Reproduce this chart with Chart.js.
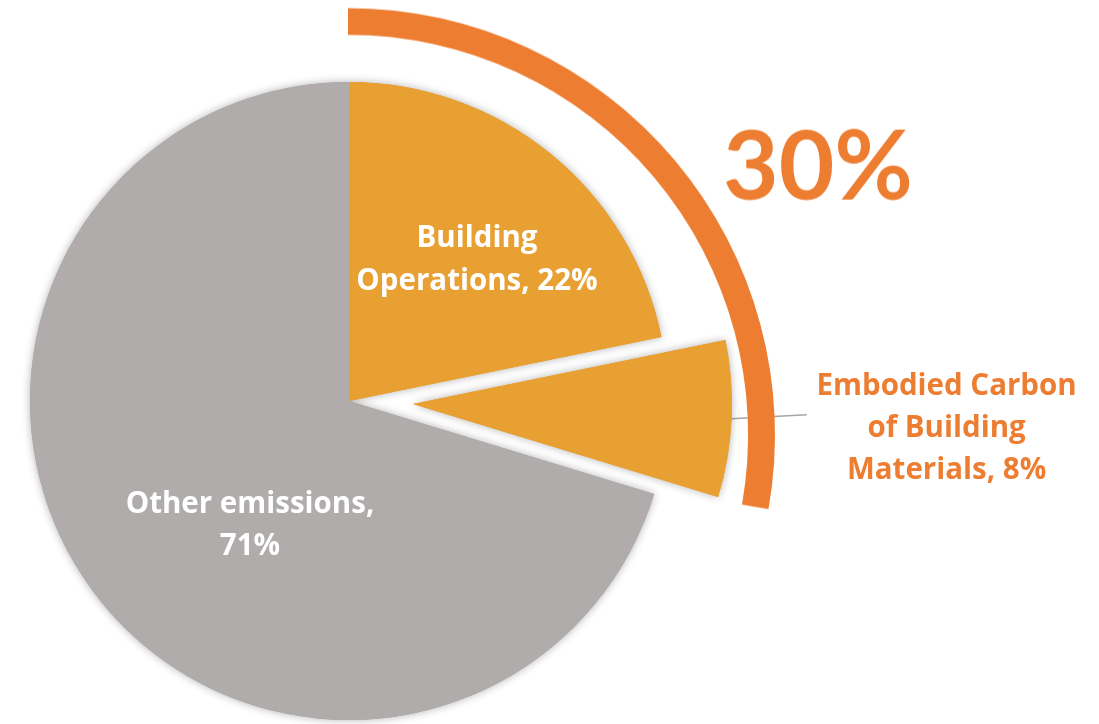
<!DOCTYPE html>
<html>
<head>
<meta charset="utf-8">
<script src="https://cdn.jsdelivr.net/npm/chart.js@4.4.1/dist/chart.umd.min.js"></script>
<style>
  html, body { margin: 0; padding: 0; background: #ffffff; overflow: hidden; width: 1099px; height: 724px; }
  canvas { position: absolute; left: 0; top: 0; width: 1099px; height: 724px; }
</style>
</head>
<body>
<canvas id="pieMain" width="1099" height="724"></canvas>
<canvas id="pieExploded" width="1099" height="724"></canvas>
<canvas id="ring" width="1099" height="724"></canvas>
<script>
// ---------------- data ----------------
const categories = ['Building Operations', 'Embodied Carbon of Building Materials', 'Other emissions'];
const shares = [22, 8, 71];
const explodedIndex = 1;
const ringCategories = ['Buildings (operations + embodied)'];
const ringShares = [30];
const ringLabel = '30%';
const labelLines = [
  ['Building', 'Operations, 22%'],
  ['Embodied Carbon', 'of Building', 'Materials, 8%'],
  ['Other emissions,', '71%']
];

// ---------------- style ----------------
const FONT = 'Lato, "Open Sans", "Noto Sans", sans-serif';
const LABEL_FONT = '"Open Sans", Lato, "Noto Sans", sans-serif';
const ORANGE_SLICE = '#E8A033';
const GREY_SLICE = '#AFACAB';
const ORANGE_RING = '#ED7D31';
const CLEAR = 'rgba(0,0,0,0)';
const PIE_RADIUS = 319;
const EXPLODE = 64;
const PIE_CENTER = { x: 349, y: 401 };
const RING_CENTER = { x: 348, y: 435 };

const mainColors = shares.map((v, i) => i === explodedIndex ? CLEAR : (i === 2 ? GREY_SLICE : ORANGE_SLICE));
const explodedColors = shares.map((v, i) => i === explodedIndex ? ORANGE_SLICE : CLEAR);

const shadowPlugin = {
  id: 'softShadow',
  beforeDatasetsDraw(chart) {
    const ctx = chart.ctx;
    ctx.save();
    ctx.shadowColor = 'rgba(0,0,0,0.30)';
    ctx.shadowBlur = 9;
    chart.getDatasetMeta(0).data.forEach(a => a.draw(ctx));
    ctx.restore();
  }
};

function drawLines(ctx, lines, x, y, lh) {
  lines.forEach((t, i) => ctx.fillText(t, x, y + i * lh));
}

const labelPlugin = {
  id: 'sliceLabels',
  afterDatasetsDraw(chart) {
    const ctx = chart.ctx;
    const meta = chart.getDatasetMeta(0);
    const a0 = meta.data[0];
    const cx = a0.x, cy = a0.y, r = a0.outerRadius;
    ctx.save();
    ctx.font = 'bold 29.5px ' + LABEL_FONT;
    ctx.textAlign = 'center';
    ctx.textBaseline = 'alphabetic';
    ctx.fillStyle = '#ffffff';
    drawLines(ctx, labelLines[0], cx + 128, cy - 154, 43);
    drawLines(ctx, labelLines[2], cx - 99, cy + 112, 42);
    // leader line for exploded slice
    const e = meta.data[explodedIndex];
    const mid = (e.startAngle + e.endAngle) / 2;
    const ox = cx + Math.cos(mid) * EXPLODE, oy = cy + Math.sin(mid) * EXPLODE;
    const sx = ox + Math.cos(mid) * r, sy = oy + Math.sin(mid) * r;
    ctx.strokeStyle = '#A6A6A6';
    ctx.lineWidth = 1.5;
    ctx.beginPath();
    ctx.moveTo(sx, sy);
    ctx.lineTo(sx + 75, sy - 4);
    ctx.stroke();
    ctx.fillStyle = ORANGE_RING;
    drawLines(ctx, labelLines[1], sx + 215, sy - 24, 42);
    ctx.restore();
  }
};

function makePie(id, colors, plugins) {
  return new Chart(document.getElementById(id), {
    type: 'pie',
    data: {
      labels: categories,
      datasets: [{ data: shares, backgroundColor: colors, borderWidth: 0, hoverOffset: 0, radius: PIE_RADIUS }]
    },
    options: {
      responsive: false,
      animation: false,
      events: [],
      radius: PIE_RADIUS,
      layout: { padding: { left: 0, right: 401, top: 78, bottom: 0 } },
      plugins: { legend: { display: false }, tooltip: { enabled: false } }
    },
    plugins: plugins
  });
}

function place(chart, tx, ty) {
  const el = chart.getDatasetMeta(0).data[0];
  chart.canvas.style.transform = 'translate(' + (tx - el.x) + 'px,' + (ty - el.y) + 'px)';
}

const mainPie = makePie('pieMain', mainColors, [shadowPlugin, labelPlugin]);
place(mainPie, PIE_CENTER.x, PIE_CENTER.y);

const explodedPie = makePie('pieExploded', explodedColors, [shadowPlugin]);
{
  const e = explodedPie.getDatasetMeta(0).data[explodedIndex];
  const mid = (e.startAngle + e.endAngle) / 2;
  place(explodedPie, PIE_CENTER.x + Math.cos(mid) * EXPLODE, PIE_CENTER.y + Math.sin(mid) * EXPLODE);
}

const ringTextPlugin = {
  id: 'ringText',
  afterDatasetsDraw(chart) {
    const el = chart.getDatasetMeta(0).data[0];
    const ctx = chart.ctx;
    ctx.save();
    ctx.font = 'bold 96px ' + FONT;
    ctx.textAlign = 'center';
    ctx.textBaseline = 'alphabetic';
    ctx.fillStyle = ORANGE_RING;
    ctx.fillText(ringLabel, el.x + 470, el.y - 235);
    ctx.restore();
  }
};

const ringChart = new Chart(document.getElementById('ring'), {
  type: 'doughnut',
  data: {
    labels: ringCategories,
    datasets: [{
      data: ringShares, backgroundColor: ORANGE_RING, borderWidth: 0, hoverOffset: 0,
      radius: 427, cutout: '93.7%', circumference: 100, rotation: 0
    }]
  },
  options: {
    responsive: false,
    animation: false,
    events: [],
    radius: 427,
    cutout: '93.7%',
    circumference: 100,
    rotation: 0,
    plugins: { legend: { display: false }, tooltip: { enabled: false } }
  },
  plugins: [ringTextPlugin]
});
place(ringChart, RING_CENTER.x, RING_CENTER.y);
</script>
</body>
</html>
